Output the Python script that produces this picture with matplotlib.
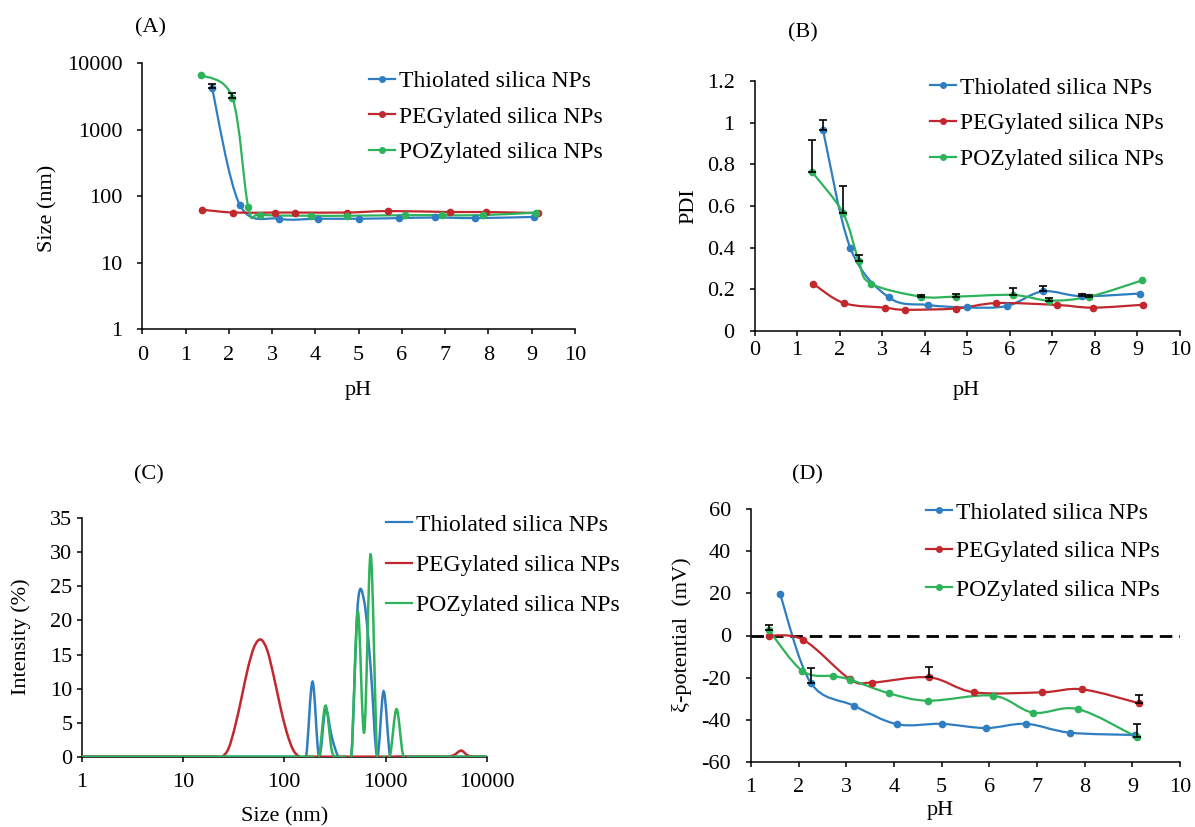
import numpy as np
import matplotlib
matplotlib.use('Agg')
import matplotlib.pyplot as plt
from matplotlib.path import Path
from matplotlib.patches import PathPatch
from matplotlib.lines import Line2D
from matplotlib.ticker import FixedLocator, FixedFormatter

plt.rcParams['font.family'] = ['Liberation Serif', 'DejaVu Serif']
plt.rcParams['axes.unicode_minus'] = False

W, H = 1195, 827

names = ['Thiolated silica NPs', 'PEGylated silica NPs', 'POZylated silica NPs']
colors = ['#2E7EC1', '#C0282E', '#2EB35B']

ph_thiol = [1.61, 2.25, 3.16, 4.07, 5.0, 5.93, 6.77, 7.69, 9.06]
ph_peg = [1.37, 2.10, 3.07, 3.53, 4.74, 5.68, 7.11, 7.95, 9.14]
ph_poz = [1.35, 2.08, 2.45, 2.73, 3.91, 4.73, 6.07, 6.93, 7.87, 9.11]
ph_poz_zeta = [1.37, 2.08, 2.73, 3.08, 3.90, 4.72, 6.08, 6.92, 7.86, 9.10]

# (A) hydrodynamic size (nm)
size_thiol = [4250, 75, 46, 46, 46, 47, 48, 47, 49]
size_peg = [63, 57, 57, 57, 57, 60, 58, 58, 56]
size_poz = [6700, 3050, 68, 53, 51, 51, 52, 52, 52, 57]
size_thiol_err = [650, 0, 0, 0, 0, 0, 0, 0, 0]
size_poz_err = [0, 500, 0, 0, 0, 0, 0, 0, 0, 0]

# (B) PDI
pdi_thiol = [0.965, 0.40, 0.161, 0.125, 0.113, 0.12, 0.19, 0.167, 0.18]
pdi_peg = [0.228, 0.134, 0.112, 0.102, 0.108, 0.134, 0.125, 0.112, 0.126]
pdi_poz = [0.764, 0.566, 0.335, 0.228, 0.165, 0.165, 0.173, 0.146, 0.165, 0.243]
pdi_thiol_err = [0.05, 0, 0, 0, 0, 0, 0.025, 0.01, 0]
pdi_poz_err = [0.155, 0.13, 0.03, 0, 0.01, 0.015, 0.032, 0.012, 0.01, 0]

# (C) intensity distributions: DLS size bins (nm) and non-zero intensities (%)
dls_sizes = [0.9649, 1.117, 1.294, 1.499, 1.736, 2.010, 2.328, 2.696, 3.122,
             3.615, 4.187, 4.849, 5.615, 6.503, 7.531, 8.721, 10.10, 11.70,
             13.54, 15.69, 18.17, 21.04, 24.36, 28.21, 32.67, 37.84, 43.82,
             50.75, 58.77, 68.06, 78.82, 91.28, 105.7, 122.4, 141.8, 164.2,
             190.1, 220.2, 255.0, 295.3, 342.0, 396.1, 458.7, 531.2, 615.1,
             712.4, 825.0, 955.4, 1106, 1281, 1484, 1718, 1990, 2305, 2669,
             3091, 3580, 4145, 4801, 5560, 6439, 7456, 8635, 10000]
int_thiol = {190.1: 11.0, 255.0: 6.9, 295.3: 2.8, 531.2: 22.4, 615.1: 22.8,
             712.4: 13.0, 955.4: 9.6}
int_peg = {28.21: 1.2, 32.67: 4.4, 37.84: 8.6, 43.82: 13.0, 50.75: 16.2,
           58.77: 17.2, 68.06: 15.6, 78.82: 11.8, 91.28: 7.4, 105.7: 3.6,
           122.4: 1.0, 4801: 0.3, 5560: 0.9, 6439: 0.2}
int_poz = {255.0: 7.5, 295.3: 0.8, 531.2: 21.3, 615.1: 3.6, 712.4: 29.7,
           1106: 0.2, 1281: 7.0, 1484: 0.3}

# (D) zeta potential (mV)
zeta_thiol = [19.7, -22.4, -33.4, -42.2, -42.0, -44.0, -42.0, -46.2, -47.3]
zeta_peg = [0.0, -2.1, -20.7, -22.4, -19.9, -27.0, -27.0, -25.6, -32.2]
zeta_poz = [2.6, -16.9, -19.3, -21.0, -27.5, -31.0, -28.6, -36.7, -35.0, -48.4]
zeta_thiol_err = [0, 7, 0, 0, 0, 0, 0, 0, 0]
zeta_peg_err = [0, 0, 0, 0, 5, 0, 0, 0, 4]
zeta_poz_err = [2.5, 0, 0, 0, 0, 0, 0, 0, 0, 6.5]


def px_axes(l, t, r, b):
    return fig.add_axes([l / W, 1 - b / H, (r - l) / W, (b - t) / H])


def px_text(x, y, s, **kw):
    fig.text(x / W, 1 - y / H, s, ha='center', va='center', **kw)


# smoothed line like the spreadsheet "smoothed line" option
def smooth_path(x, y, logx=False, logy=False):
    px = np.log10(x) if logx else np.asarray(x, float)
    py = np.log10(y) if logy else np.asarray(y, float)
    pts = np.column_stack([px, py])
    n = len(pts)
    verts = [pts[0]]
    codes = [Path.MOVETO]
    for i in range(n - 1):
        p0 = pts[max(i - 1, 0)]
        p1 = pts[i]
        p2 = pts[i + 1]
        p3 = pts[min(i + 2, n - 1)]
        verts += [p1 + (p2 - p0) / 6, p2 - (p3 - p1) / 6, p2]
        codes += [Path.CURVE4] * 3
    verts = np.array(verts)
    if logx:
        verts[:, 0] = 10 ** verts[:, 0]
    if logy:
        verts[:, 1] = 10 ** verts[:, 1]
    return Path(verts, codes)


def draw_series(ax, x, y, color, logx=False, logy=False, marker=True, lw=1.6):
    ax.add_patch(PathPatch(smooth_path(x, y, logx, logy), fill=False,
                           edgecolor=color, lw=lw, zorder=3))
    if marker:
        ax.plot(x, y, 'o', color=color, ms=4.5, zorder=4)


def draw_err(ax, x, y, err):
    x = np.asarray(x, float)
    y = np.asarray(y, float)
    e = np.asarray(err, float)
    m = e > 0
    ax.errorbar(x[m], y[m], yerr=[np.zeros(m.sum()), e[m]], fmt='none',
                ecolor='black', elinewidth=1.2, capsize=3, capthick=1.2,
                zorder=5)


def style(ax, ypad, xpad):
    for s in ['top', 'right']:
        ax.spines[s].set_visible(False)
    for s in ['left', 'bottom']:
        ax.spines[s].set_linewidth(1.1)
    ax.tick_params(direction='out', length=3.6, width=1.1, labelsize=16,
                   colors='black')
    ax.tick_params(axis='y', pad=ypad)
    ax.tick_params(axis='x', pad=xpad)
    ax.minorticks_off()


def legend(ax, x, y, spacing, markers=True):
    hs = [Line2D([], [], color=c, lw=1.6, marker='o' if markers else None,
                 ms=4) for c in colors]
    ax.legend(hs, names, loc='upper left', bbox_to_anchor=(x / W, 1 - y / H),
              bbox_transform=fig.transFigure, frameon=False, fontsize=17,
              handlelength=1.1, handletextpad=0.15, labelspacing=spacing,
              borderpad=0, borderaxespad=0, numpoints=1)


fig = plt.figure(figsize=(W / 100, H / 100), dpi=100)

# ---- (A)
axA = px_axes(142.4, 63.3, 574.8, 329.3)
axA.set_yscale('log')
axA.set_xlim(0, 10)
axA.set_ylim(1, 10000)
axA.set_xticks(range(0, 11))
axA.yaxis.set_major_locator(FixedLocator([1, 10, 100, 1000, 10000]))
axA.yaxis.set_major_formatter(FixedFormatter(['1', '10', '100', '1000', '10000']))
draw_series(axA, ph_thiol, size_thiol, colors[0], logy=True)
draw_series(axA, ph_peg, size_peg, colors[1], logy=True)
draw_series(axA, ph_poz, size_poz, colors[2], logy=True)
draw_err(axA, ph_thiol, size_thiol, size_thiol_err)
draw_err(axA, ph_poz, size_poz, size_poz_err)
style(axA, 10.8, 8.6)
axA.yaxis.set_minor_locator(FixedLocator([]))
legend(axA, 369, 70.5, 0.6)
px_text(151, 28, '(A)', fontsize=16)
px_text(48, 208, 'Size (nm)', fontsize=16, rotation=90)
px_text(358, 390, 'pH', fontsize=16)

# ---- (B)
axB = px_axes(754.5, 81, 1180, 331)
axB.set_xlim(0, 10)
axB.set_ylim(0, 1.2)
axB.set_xticks(range(0, 11))
pdi_ticks = [0, 0.2, 0.4, 0.6, 0.8, 1.0, 1.2]
axB.set_yticks(pdi_ticks)
axB.set_yticklabels(['0', '0.2', '0.4', '0.6', '0.8', '1', '1.2'])
draw_series(axB, ph_thiol, pdi_thiol, colors[0])
draw_series(axB, ph_peg, pdi_peg, colors[1])
draw_series(axB, ph_poz, pdi_poz, colors[2])
draw_err(axB, ph_thiol, pdi_thiol, pdi_thiol_err)
draw_err(axB, ph_poz, pdi_poz, pdi_poz_err)
style(axB, 10.8, 3.6)
legend(axB, 930, 77, 0.6)
px_text(803, 33, '(B)', fontsize=16)
px_text(689, 206, 'PDI', fontsize=16, rotation=90)
px_text(966, 390, 'pH', fontsize=16)

# ---- (C)
axC = px_axes(81.5, 518.3, 487, 756.7)
axC.set_xscale('log')
axC.set_xlim(1, 10000)
axC.set_ylim(0, 35)
axC.set_yticks(range(0, 36, 5))
axC.xaxis.set_major_locator(FixedLocator([1, 10, 100, 1000, 10000]))
axC.xaxis.set_major_formatter(FixedFormatter(['1', '10', '100', '1000', '10000']))
for table, c in zip([int_thiol, int_peg, int_poz], colors):
    vals = [table.get(s, 0.0) for s in dls_sizes]
    draw_series(axC, dls_sizes, vals, c, logx=True, marker=False, lw=1.8)
style(axC, 2.9, 8.0)
axC.xaxis.set_minor_locator(FixedLocator([]))
legend(axC, 386, 514, 0.8, markers=False)
px_text(149, 475, '(C)', fontsize=16)
px_text(21, 637, 'Intensity (%)', fontsize=16, rotation=90)
px_text(285, 817, 'Size (nm)', fontsize=16)

# ---- (D)
axD = px_axes(751, 509.3, 1180, 761.7)
axD.set_xlim(1, 10)
axD.set_ylim(-60, 60)
axD.set_xticks(range(1, 11))
axD.set_yticks(range(-60, 61, 20))
axD.axhline(0, color='black', lw=2, dashes=(4.5, 2.5), zorder=2)
draw_series(axD, ph_thiol, zeta_thiol, colors[0])
draw_series(axD, ph_peg, zeta_peg, colors[1])
draw_series(axD, ph_poz_zeta, zeta_poz, colors[2])
draw_err(axD, ph_thiol, zeta_thiol, zeta_thiol_err)
draw_err(axD, ph_peg, zeta_peg, zeta_peg_err)
draw_err(axD, ph_poz_zeta, zeta_poz, zeta_poz_err)
style(axD, 10.8, 8.0)
legend(axD, 926, 502, 0.72)
px_text(807, 475, '(D)', fontsize=16)
px_text(682, 635, 'ξ-potential  (mV)', fontsize=16, rotation=90)
px_text(940, 810, 'pH', fontsize=16)

fig.savefig('out.png', dpi=100)
